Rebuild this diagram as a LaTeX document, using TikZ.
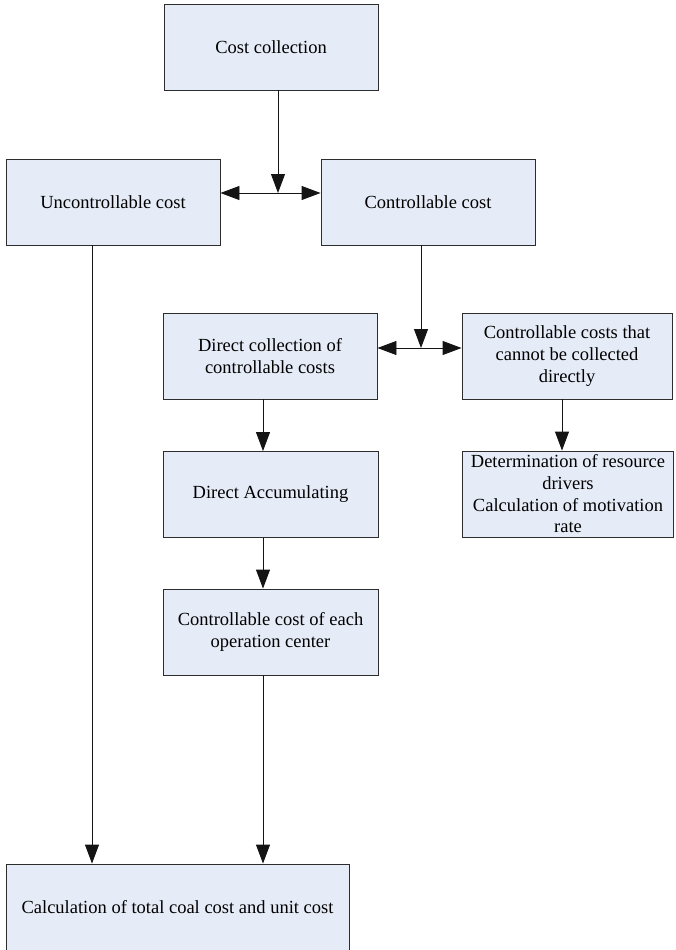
\documentclass[tikz,border=0pt]{standalone}
\usepackage{fontspec}
\setmainfont{Liberation Serif}
\usetikzlibrary{arrows.meta}
\definecolor{boxfill}{RGB}{230,236,247}
\definecolor{boxline}{RGB}{45,45,45}
\definecolor{linecol}{RGB}{20,20,20}
\begin{document}
\begin{tikzpicture}[x=1pt,y=-1pt,
  box/.style={draw=boxline, fill=boxfill, line width=0.9pt, inner sep=0pt, align=center,
    minimum width=214pt, minimum height=86pt, font=\fontsize{18.5}{21.7}\selectfont},
  arr/.style={-{Triangle[length=19pt,width=14pt]}, line width=0.9pt, draw=linecol, fill=linecol}]
\clip (0,0) rectangle (675,950);
\fill[white] (0,0) rectangle (675,950);

\node[box] (cc) at (271,47) {Cost collection};
\node[box] (unc) at (113,202) {Uncontrollable cost};
\node[box] (con) at (428,202) {Controllable cost};
\node[box] (dcc) at (270,356) {Direct collection of\\controllable costs};
\node[box, minimum width=210pt] (ncc) at (567,356) {Controllable costs that\\cannot be collected\\directly};
\node[box, minimum width=211pt] (det) at (568,494) {Determination of resource\\drivers\\Calculation of motivation\\rate};
\node[box, minimum width=215pt] (dacc) at (270.5,494.5) {Direct Accumulating};
\node[box, minimum width=215pt] (opc) at (270.5,632) {Controllable cost of each\\operation center};
\node[box, minimum width=343pt, minimum height=88pt] (tot) at (177.5,908) {};
\node[font=\fontsize{18.5}{21.7}\selectfont] (totlabel) at (177.5,907) {Calculation of total coal cost and unit cost};

\coordinate (j1) at (278,193);
\coordinate (j2) at (421,348);
\coordinate (c1) at (92,0);
\coordinate (c2) at (263,0);
\coordinate (c3) at (562,0);

\draw[arr] (cc.south -| j1) -- (j1);
\draw[arr] (j1) -- (j1 -| unc.east);
\draw[arr] (j1) -- (j1 -| con.west);
\draw[arr] (con.south -| j2) -- (j2);
\draw[arr] (j2) -- (j2 -| dcc.east);
\draw[arr] (j2) -- (j2 -| ncc.west);
\draw[arr] (dcc.south -| c2) -- (dacc.north -| c2);
\draw[arr] (dacc.south -| c2) -- (opc.north -| c2);
\draw[arr] (opc.south -| c2) -- (tot.north -| c2);
\draw[arr] (unc.south -| c1) -- (tot.north -| c1);
\draw[arr] (ncc.south -| c3) -- (det.north -| c3);
\end{tikzpicture}
\end{document}
